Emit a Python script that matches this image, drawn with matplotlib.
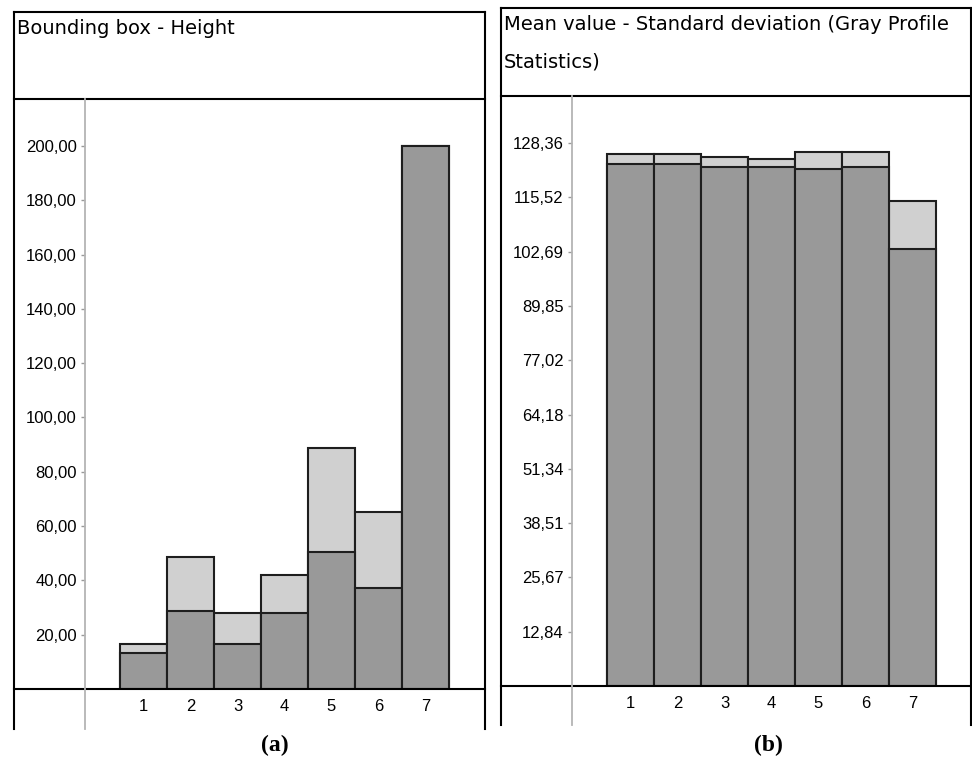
import matplotlib.pyplot as plt
from matplotlib.lines import Line2D

W, H = 972, 758

# data
bars = [1, 2, 3, 4, 5, 6, 7]

height_lower = [13.3, 28.8, 16.6, 28.0, 50.5, 37.3, 200.0]
height_upper = [16.6, 48.7, 28.0, 42.0, 88.9, 65.3, 200.0]
height_ticks = [20, 40, 60, 80, 100, 120, 140, 160, 180, 200]
height_labels = ["20,00", "40,00", "60,00", "80,00", "100,00",
                 "120,00", "140,00", "160,00", "180,00", "200,00"]

gray_lower = [123.3, 123.3, 122.8, 122.8, 122.2, 122.8, 103.3]
gray_upper = [125.7, 125.7, 125.0, 124.5, 126.2, 126.2, 114.6]
gray_ticks = [12.84, 25.67, 38.51, 51.34, 64.18, 77.02, 89.85, 102.69, 115.52, 128.36]
gray_labels = ["12,84", "25,67", "38,51", "51,34", "64,18",
               "77,02", "89,85", "102,69", "115,52", "128,36"]

DARK = "#999999"
LIGHT = "#d0d0d0"
EDGE = "#1e1e1e"

fig = plt.figure(figsize=(W / 100, H / 100), dpi=100)


def fx(x):
    return x / W


def fy(y):
    return 1 - y / H


def hline(y, x0, x1, color="black", lw=1.5):
    fig.add_artist(Line2D([fx(x0), fx(x1)], [fy(y), fy(y)], color=color, lw=lw))


def vline(x, y0, y1, color="black", lw=1.5):
    fig.add_artist(Line2D([fx(x), fx(x)], [fy(y0), fy(y1)], color=color, lw=lw))


def panel(box, title, lower, upper, ticks, labels, ymax, caption, cap_x):
    left, right, top, divider, base, bottom, axis_x = box
    ax = fig.add_axes([fx(axis_x), fy(base), fx(right - axis_x), (base - divider) / H])
    ax.bar(bars, upper, width=1, color=LIGHT, edgecolor=EDGE, linewidth=1.5)
    ax.bar(bars, lower, width=1, color=DARK, edgecolor=EDGE, linewidth=1.5)
    unit = 47.0  # px per bar
    ax.set_xlim(1 - 1.245, 1 - 1.245 + (right - axis_x) / unit)
    ax.set_ylim(0, ymax)
    ax.set_yticks(ticks)
    ax.set_yticklabels(labels, fontsize=12, family="Liberation Sans")
    ax.set_xticks(bars)
    ax.set_xticklabels([str(b) for b in bars], fontsize=12, family="Liberation Sans")
    ax.tick_params(axis="y", length=3, width=1, color="#999999", pad=3)
    ax.tick_params(axis="x", length=0, pad=7)
    for s in ax.spines.values():
        s.set_visible(False)

    # frame of the panel
    hline(top, left, right)
    hline(divider, left, right)
    hline(base, left, right)
    vline(left, top, bottom)
    vline(right, top, bottom)
    vline(axis_x, divider, bottom, color="#b4b4b4", lw=1.3)

    fig.text(fx(left + 3), fy(top + 7), title, ha="left", va="top",
             fontsize=14, family="DejaVu Sans", linespacing=2.2)
    fig.text(fx(cap_x), fy(745), caption, ha="center", va="center",
             fontsize=17, family="Liberation Serif", fontweight="bold")
    return ax


panel((14, 485, 12, 99, 689, 729, 85), "Bounding box - Height",
      height_lower, height_upper, height_ticks, height_labels, 217.3, "(a)", 275)
panel((501, 970.5, 8, 95.5, 686, 725, 572),
      "Mean value - Standard deviation (Gray Profile\nStatistics)",
      gray_lower, gray_upper, gray_ticks, gray_labels, 139.6, "(b)", 768)

fig.savefig("out.png", dpi=100)
